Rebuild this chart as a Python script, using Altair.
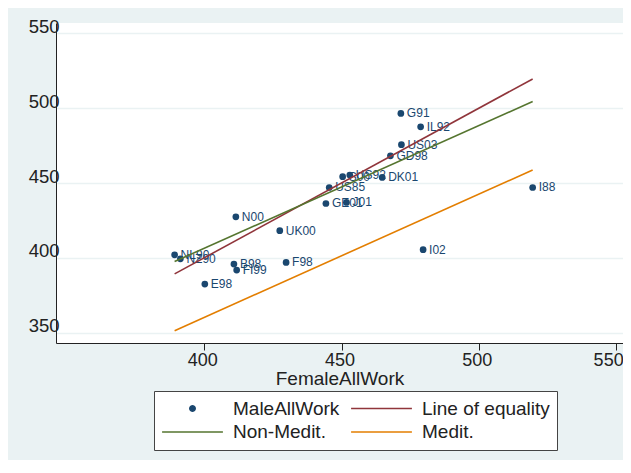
import math
import altair as alt
import pandas as pd

# ---- data ----
labels = ["G91", "IL92", "US03", "GD98", "I88", "DK01", "US92", "S00", "US85", "GE01",
          "J01", "N00", "UK00", "I02", "F98", "B98", "FI99", "E98", "NL90", "NZ90"]
female = [471.6, 478.8, 471.8, 467.8, 519.6, 464.8, 453.0, 450.4, 445.5, 444.3,
          451.8, 411.5, 427.5, 479.7, 429.8, 410.8, 411.8, 400.2, 389.2, 391.3]
male = [496.5, 487.6, 475.6, 468.2, 447.0, 453.7, 455.3, 454.2, 447.0, 436.3,
        437.0, 427.4, 418.1, 405.4, 396.9, 395.8, 391.8, 382.4, 402.0, 399.3]

fit_x = [389.2, 519.6]
equality_y = [389.2, 519.6]
nonmedit_y = [397.5, 504.5]
medit_y = [351.2, 458.7]

# legend order (laid out column by column)
series_names = ["MaleAllWork", "Non-Medit.", "Line of equality", "Medit."]
series_colors = ["#1a476f", "#55752f", "#90353b", "#e37e00"]
x_ticks = [400, 450, 500, 550]
y_ticks = [350, 400, 450, 500, 550]

points = pd.DataFrame({"label": labels, "female": female, "male": male,
                       "series": [series_names[0]] * len(labels)})
lines = pd.DataFrame({
    "female": fit_x * 3,
    "male": equality_y + nonmedit_y + medit_y,
    "series": ["Line of equality"] * 2 + ["Non-Medit."] * 2 + ["Medit."] * 2,
})

# small dot drawn as a custom symbol path (unit coordinates), so that all legend
# entries share the same symbol size (the lines are sqrt(3700) px long)
r = 0.088
dot_path = "M " + " L ".join(
    f"{r * math.cos(2 * math.pi * k / 20):.4f},{r * math.sin(2 * math.pi * k / 20):.4f}"
    for k in range(20)) + " Z"

is_dot = "datum.value === 'MaleAllWork'"
legend = alt.Legend(
    title=None, orient="none", legendX=98, legendY=368, columns=2,
    symbolType=alt.ExprRef(f"{is_dot} ? '{dot_path}' : 'stroke'"),
    symbolSize=3700,
    symbolStrokeWidth=1.6,
    symbolFillColor=alt.ExprRef(f"{is_dot} ? '#1a476f' : 'transparent'"),
    symbolStrokeColor=alt.ExprRef("scale('color', datum.value)"),
    symbolOpacity=1,
    clipHeight=21, labelFontSize=19, labelOffset=9, columnPadding=10, rowPadding=2.5,
    padding=7, strokeColor="#444", fillColor="white", labelColor="#222", labelLimit=0,
)

xenc = alt.X("female:Q", scale=alt.Scale(domain=[346, 552.5], nice=False, zero=False),
             axis=alt.Axis(values=x_ticks, title="FemaleAllWork", grid=False,
                           domainColor="#222", tickColor="#222", tickSize=7,
                           labelFontSize=18, labelPadding=1, labelColor="#222",
                           titleFontSize=19, titleFontWeight="normal", titleColor="#222",
                           titlePadding=0, labelFlush=False,
                           labelOffset=alt.ExprRef("datum.value === 550 ? -8 : -2"),
                           format="d"))
yenc = alt.Y("male:Q", scale=alt.Scale(domain=[343, 557], nice=False, zero=False),
             axis=alt.Axis(values=y_ticks, title=None, grid=True, gridColor="#eaf2f3",
                           gridWidth=1.5, domainColor="#222", tickSize=0,
                           labelPadding=-3, labelOffset=-7, labelFontSize=18.5,
                           labelColor="#222", labelFlush=False, format="d"))
color = alt.Color("series:N", scale=alt.Scale(domain=series_names, range=series_colors),
                  legend=legend)

dots = alt.Chart(points).mark_point(filled=True, size=45, opacity=1).encode(
    x=xenc, y=yenc, color=color)
texts = alt.Chart(points).mark_text(align="left", baseline="middle", dx=6, fontSize=12,
                                    color="#1a476f").encode(x=xenc, y=yenc, text="label:N")
fits = alt.Chart(lines).mark_line(strokeWidth=1.6).encode(x=xenc, y=yenc, color=color)

chart = alt.layer(dots, texts, fits).properties(
    width=567, height=320,
    autosize=alt.AutoSizeParams(type="none"),
    padding={"left": 48, "top": 15, "right": 0, "bottom": 117},
).configure(background="#eaf2f3", font="Liberation Sans").configure_view(
    fill="white", strokeWidth=0)

chart.save("out.html", embed_options={"renderer": "svg", "actions": False})
